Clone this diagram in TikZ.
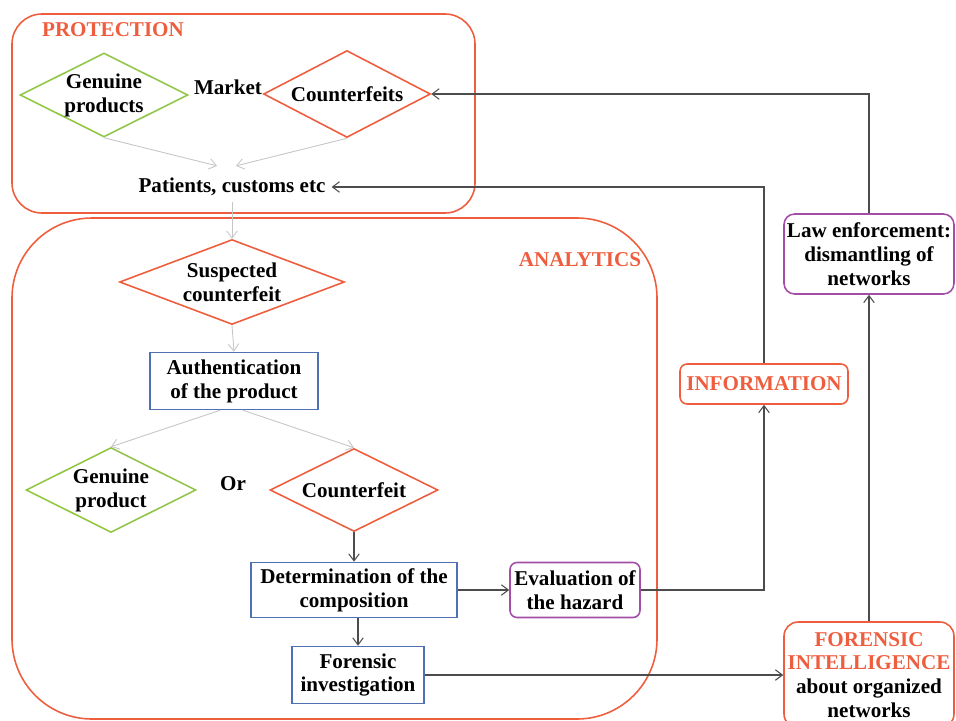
\documentclass[tikz,border=0pt]{standalone}
\usepackage{fontspec}
\setmainfont{Liberation Serif}
\usetikzlibrary{shapes.geometric,arrows.meta}
\definecolor{redorange}{RGB}{238,94,62}
\definecolor{leafgreen}{RGB}{146,198,72}
\definecolor{boxblue}{RGB}{80,112,182}
\definecolor{boxpurple}{RGB}{162,78,166}

\begin{document}
\begin{tikzpicture}[x=0.02cm, y=-0.02cm, >={Straight Barb[length=4pt,width=6pt]},
  font=\bfseries\fontsize{12}{13.6}\selectfont,
  every node/.style={align=center},
  groupbox/.style={draw=redorange, line width=0.9pt},
  grouplabel/.style={text=redorange},
  gdiamond/.style={diamond, draw=leafgreen, line width=0.9pt, inner sep=0pt, aspect=2},
  rdiamond/.style={diamond, draw=redorange, line width=0.9pt, inner sep=0pt, aspect=2},
  stepbox/.style={rectangle, draw=boxblue, line width=0.9pt, inner sep=1pt},
  evalbox/.style={rectangle, rounded corners=4pt, draw=boxpurple, line width=0.9pt, inner sep=1pt},
  outbox/.style={rectangle, rounded corners=4pt, draw=redorange, line width=0.9pt, inner sep=1pt},
  lightarrow/.style={->, gray!45, line width=0.5pt},
  darkarrow/.style={->, black!70, line width=0.6pt}]

  \useasboundingbox (0,0) rectangle (956,720);

  % --- 1. PROTECTION ---
  \draw[groupbox, rounded corners=0.6cm] (12,14) rectangle (475,213);
  \node[grouplabel] (protlbl) at (113,30) {PROTECTION};

  \node[gdiamond, minimum width=3.36cm, minimum height=1.68cm] (genuine) at (104,95) {Genuine\\products};
  \node (market) at (228,87) {Market};
  \node[rdiamond, minimum width=3.34cm, minimum height=1.74cm] (counterfeits) at (347,94) {Counterfeits};
  \node (patients) at (232,187) {Patients, customs etc};

  \draw[lightarrow] (genuine.south) -- ([xshift=-0.3cm, yshift=0.12cm]patients.north);
  \draw[lightarrow] (counterfeits.south) -- ([xshift=0.08cm, yshift=0.12cm]patients.north);

  % --- 2. ANALYTICS ---
  \draw[groupbox, rounded corners=1.6cm] (12,218) rectangle (657,719);
  \node[grouplabel] (analbl) at (580,260) {ANALYTICS};

  \node[rdiamond, aspect=2.6, minimum width=4.5cm, minimum height=1.7cm] (suspected) at (232,282) {Suspected\\counterfeit};
  \node[stepbox, minimum width=3.36cm, minimum height=1.14cm] (auth) at (234,381) {Authentication\\of the product};

  \node[gdiamond, minimum width=3.4cm, minimum height=1.7cm] (genprod) at (111,490) {Genuine\\product};
  \node (orword) at (233,484) {Or};
  \node[rdiamond, minimum width=3.36cm, minimum height=1.66cm] (counterfeit) at (354,490) {Counterfeit};

  \node[stepbox, minimum width=4.12cm, minimum height=1.1cm] (determ) at (354,590) {Determination of the\\composition};
  \node[evalbox, minimum width=2.6cm, minimum height=1.1cm] (hazard) at (575,590) {Evaluation of\\the hazard};
  \node[stepbox, minimum width=2.64cm, minimum height=1.14cm] (forinv) at (358,675) {Forensic\\investigation};

  \draw[lightarrow] (patients.south) -- (suspected.north);
  \draw[lightarrow] (suspected.south) -- (auth.north);
  \draw[lightarrow] ([xshift=-0.28cm]auth.south) -- (genprod.north);
  \draw[lightarrow] ([xshift=0.18cm]auth.south) -- (counterfeit.north);
  \draw[darkarrow] (counterfeit.south) -- (determ.north);
  \draw[darkarrow] (determ.east) -- (hazard.west);
  \draw[darkarrow] (forinv.north |- determ.south) -- (forinv.north);

  % --- 3. INFORMATION / intelligence ---
  \node[outbox, text=redorange, minimum width=3.36cm, minimum height=0.8cm] (info) at (764,384) {INFORMATION};
  \node[evalbox, rounded corners=6pt, minimum width=3.4cm, minimum height=1.6cm] (law) at (869,254) {Law enforcement:\\dismantling of\\networks};
  \node[outbox, rounded corners=8pt, minimum width=3.4cm, minimum height=2.12cm] (forintel) at (869,675)
    {{\color{redorange}FORENSIC}\\{\color{redorange}INTELLIGENCE}\\about organized\\networks};

  \draw[darkarrow] (hazard.east) -| (info.south);
  \draw[darkarrow] (info.north) |- (patients.east);
  \draw[darkarrow] (forinv.east) -- (forintel.west);
  \draw[darkarrow] (forintel.north) -- (law.south);
  \draw[darkarrow] (law.north) |- (counterfeits.east);

\end{tikzpicture}
\end{document}
